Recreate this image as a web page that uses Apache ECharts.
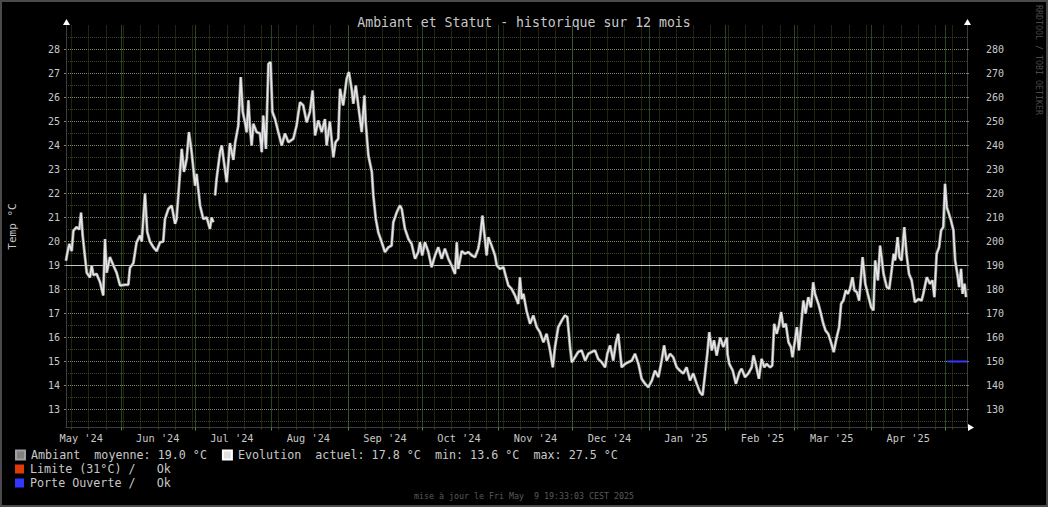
<!DOCTYPE html>
<html><head><meta charset="utf-8">
<script src="https://cdn.jsdelivr.net/npm/echarts@6/dist/echarts.min.js"></script>
<style>
html,body{margin:0;padding:0;background:#000;overflow:hidden;}
#chart{position:absolute;left:0;top:0;width:1048px;height:507px;background:#000;}
#frame{position:absolute;left:0;top:0;width:1044px;height:503px;border:2px solid #4a4a4a;pointer-events:none;}
</style></head><body>
<div id="chart"></div><div id="frame"></div>
<script>
// ---- data ----
const titleText = "Ambiant et Statut - historique sur 12 mois";
const startYMDHMS = [2024, 4, 9, 19, 33, 3];   // Fri May 9 19:33:03 (one year before update)
const spanDays = 365;
const monthLabels = ["May '24","Jun '24","Jul '24","Aug '24","Sep '24","Oct '24","Nov '24","Dec '24","Jan '25","Feb '25","Mar '25","Apr '25"];
const leftTicks = [13,14,15,16,17,18,19,20,21,22,23,24,25,26,27,28];
const halfTicks = [12.5,13.5,14.5,15.5,16.5,17.5,18.5,19.5,20.5,21.5,22.5,23.5,24.5,25.5,26.5,27.5,28.5];
const rightTicks = [130,140,150,160,170,180,190,200,210,220,230,240,250,260,270,280];
// days since start, temperature (°C)
const ambDays = [0,0.5,1.35,2.3,3,4.3,5.4,6.1,6.75,7.7,8.4,9.7,10.4,11.1,12.4,13.8,15.1,15.8,16.5,17.8,19.2,20.5,21.9,23.9,25.25,25.9,27.3,28.6,30,30.7,32,32.9,34,35.4,36.7,38.1,39.4,40.1,41.5,42.8,44.2,44.8,45.9,46.9,47.8,48.9,49.8,50.9,52.3,52.9,54.3,55.6,57,58.3,59,59.7,60,60.4,61,62.4,63.1,64.4,65.1,66.4,67.8,68.5,69.8,70.8,71.6,72.5,73.2,73.9,74.5,75.2,75.9,77.2,78.6,79.3,79.9,81,82,82.9,83.6,84.7,86,87.4,88.7,90.1,92.1,93.4,94.8,96.1,97.5,98.8,99.9,100.9,102.2,103.6,104.9,105.6,106.9,108.3,109.2,110.3,111,112.3,113.7,114.6,115.7,116.4,117.4,118.4,119.8,120.9,121.4,122.5,123.9,124.5,125.5,126.5,127.9,129.2,130.6,131.9,132.6,134,135.3,136,137.3,138.7,140,141.4,142.7,143.4,144.3,145.4,146.8,148.1,149.5,150.8,152.2,153.5,154.9,156.2,157.6,158.3,158.9,160.3,161.6,163,164.4,165.7,167,167.7,168.7,169.7,170.4,171.1,172.4,173.8,174.5,175.8,177.2,178.1,179.2,180.5,181.9,183.2,183.9,184.6,185.3,186.6,188,189.3,190.7,192,193.4,194.7,196.1,197.2,198.1,199.4,200.8,202.1,203.1,204.2,204.9,206.2,207.5,208.9,210.3,211.6,213,214.3,215.6,217,218.4,219.3,220.4,221.7,222.8,223.7,225.1,226.5,227.8,229.2,230.5,231.9,233.2,234.6,235.9,237.3,238.6,240,241.3,242.3,243.3,244.7,246,247.4,248.7,250.1,251.4,252.8,254.1,255.5,256.8,257.9,258.9,259.8,260.6,261.6,262.5,263.6,265,266.3,267.7,268,268.7,270.1,271.4,272.8,273.7,275.1,276.4,277.8,278.5,279.4,280.7,281.8,282.9,283.8,285.2,286.1,286.9,287.9,288.8,289.7,290.6,291.6,292.7,293.7,294.3,295.3,296.1,296.9,298,298.7,299.6,300.7,301.8,302.7,303.4,304.8,305.8,306.8,307.7,308.8,309.9,311,312.2,313.2,314,314.9,315.9,316.7,317.6,318.6,319.4,320.4,321.3,322.7,323.8,324.8,326.2,327.1,327.8,328.9,329.8,331.2,332.5,333.5,334.3,335.3,335.9,336.9,337.6,338.5,339.6,340.5,341.5,342.6,343.9,345.3,346.6,347.3,348.7,350,351,351.8,352.7,353.7,354.5,355.4,356.1,356.8,357.7,358.5,359.5,360.2,361.3,361.8,362.6,363.2,364,364.6];
const ambTemps = [19.2,19.5,19.9,19.6,20.45,20.6,20.5,21.2,20.25,19.35,18.7,18.5,19.0,18.6,18.65,18.3,17.75,20.1,18.7,19.35,19.0,18.7,18.17,18.2,18.2,18.9,19.1,19.97,20.25,20.0,22.0,20.4,20.0,19.76,19.6,19.97,20.0,20.94,21.36,21.5,20.74,20.94,22.47,23.86,22.9,23.45,24.56,23.72,22.33,22.82,21.5,20.94,21.0,20.53,21.0,20.8,null,21.92,22.6,23.72,24.0,23.0,22.47,24.1,23.4,24.1,24.83,26.85,25.4,24.97,24.55,25.88,24.8,24.0,24.9,24.56,24.5,23.72,25.25,23.86,27.4,27.47,25.4,25.1,24.56,24.0,24.5,24.14,24.28,24.83,25.8,25.67,24.97,25.4,26.29,24.42,25.04,24.56,25.1,24.0,25.0,23.51,24.14,24.28,26.36,25.67,26.78,27.06,26.36,25.74,26.5,25.67,24.56,26.08,24.97,23.58,22.89,21.92,20.94,20.39,19.97,19.56,19.76,19.83,20.8,21.22,21.5,21.36,20.53,20.11,19.9,19.28,19.56,19.97,19.42,19.97,19.56,18.93,19.42,19.76,19.28,19.7,19.28,19.0,18.65,19.97,18.86,19.6,19.49,19.56,19.42,19.35,19.7,20.11,21.08,20.11,19.42,20.18,19.83,19.42,19.0,18.86,18.93,18.58,18.17,18.03,17.75,17.4,18.51,17.6,17.82,17.1,16.57,16.92,16.43,16.22,15.8,16.15,15.46,14.76,15.6,16.43,16.7,16.92,16.85,15.6,14.97,15.18,15.4,15.46,15.04,15.32,15.4,15.46,15.11,14.97,14.76,15.32,15.67,15.04,15.8,16.15,14.76,14.9,14.97,15.04,15.32,14.9,14.28,14.07,13.93,14.2,14.62,14.35,15.04,15.67,15.04,15.32,15.18,14.76,14.62,14.5,14.76,14.21,14.5,14.07,13.72,13.6,14.5,15.32,16.22,15.46,15.88,15.25,16.0,15.6,16.0,15.3,14.9,14.62,14.07,14.55,14.7,14.35,14.5,14.76,15.25,14.9,14.28,15.11,14.76,14.9,14.76,14.83,16.57,16.15,16.5,17.06,16.43,16.57,15.8,15.6,15.18,15.88,16.43,15.46,16.71,17.54,16.99,17.68,17.26,18.3,17.82,17.4,17.0,16.57,16.29,16.15,15.8,15.39,16.0,16.43,17.4,17.54,17.96,17.82,18.03,18.51,17.96,17.89,17.54,19.35,18.24,17.82,17.26,17.13,19.21,18.38,19.83,18.65,18.1,18.03,18.65,19.49,19.21,20.18,19.35,19.21,20.6,19.49,18.65,18.38,17.47,17.6,17.54,17.82,18.51,18.24,18.38,17.68,19.49,19.76,20.46,20.6,22.4,21.43,21.15,20.88,20.46,19.21,18.51,18.1,18.86,17.82,18.24,17.68];
const limiteDays = [0, 365];
const limiteValues = [31, 31];
const porteDays = [357, 365];
const porteValues = [15, 15];
const stats = { moyenne: 19.0, actuel: 17.8, min: 13.6, max: 27.5 };
const footerText = "mise à jour le Fri May  9 19:33:03 CEST 2025";
const watermark = "RRDTOOL / TOBI OETIKER";

// ---- build ----
const DAY = 86400000;
const START = Date.UTC.apply(null, startYMDHMS);
const END = START + spanDays * DAY;
const ts = d => START + d * DAY;
const pairs = (ds, vs) => ds.map((d, i) => [ts(d), vs[i]]);

const weekTicks = [];
for (let t = Date.UTC(2024, 4, 12); t < END; t += 7 * DAY) weekTicks.push(t);
const monthStarts = [], monthMids = [];
for (let i = 0; i < monthLabels.length; i++) {
  monthStarts.push(Date.UTC(2024, 5 + i, 1));
  monthMids.push(Date.UTC(2024, 4 + i, 16));
}

const MONO = "'DejaVu Sans Mono', monospace";
const TXT = '#c8c8c8';
const AXIS = '#3c3c3c';
const HMAJ = '#7d866a', HMIN = '#42461e', VWEEK = '#42461e', VMON = '#4f8a48';

const chart = echarts.init(document.getElementById('chart'), null, { renderer: 'svg' });
const baseX = { type: 'value', min: START, max: END, position: 'bottom', scale: true };
const baseLeft = { type: 'value', min: 12.25, max: 29, position: 'left', scale: true };

chart.setOption({
  animation: false,
  backgroundColor: '#000',
  title: { text: titleText, left: 'center', top: 11,
    textStyle: { color: TXT, fontFamily: MONO, fontSize: 13.2, fontWeight: 'normal' } },
  grid: { left: 66, right: 81, top: 25.5, bottom: 79.5, containLabel: false, outerBoundsMode: 'none' },
  xAxis: [
    Object.assign({}, baseX, {
      axisLine: { show: true, onZero: false, lineStyle: { color: AXIS, width: 1 } },
      axisTick: { show: true, length: 2, customValues: weekTicks, lineStyle: { color: VWEEK } },
      axisLabel: { show: false },
      splitLine: { show: true, lineStyle: { color: VWEEK, width: 1, type: [1, 1] } }
    }),
    Object.assign({}, baseX, {
      axisLine: { show: false, onZero: false },
      axisTick: { show: true, length: 3, customValues: monthStarts, lineStyle: { color: VMON } },
      axisLabel: { show: true, customValues: monthMids, margin: 5, color: TXT, fontFamily: MONO, fontSize: 10.3,
        formatter: v => { const i = monthMids.indexOf(v); return i >= 0 ? monthLabels[i] : ''; } },
      splitLine: { show: true, lineStyle: { color: VMON, width: 1, type: [1, 1] } }
    })
  ],
  yAxis: [
    Object.assign({}, baseLeft, {
      name: 'Temp °C', nameLocation: 'middle', nameGap: 48, nameRotate: 90,
      nameTextStyle: { color: TXT, fontFamily: MONO, fontSize: 11 },
      axisLine: { show: true, onZero: false, lineStyle: { color: AXIS } },
      axisTick: { show: true, length: 2, customValues: leftTicks, lineStyle: { color: HMAJ } },
      axisLabel: { show: true, customValues: leftTicks, margin: 6, color: TXT, fontFamily: MONO, fontSize: 10 },
      splitLine: { show: true, lineStyle: { color: HMAJ, width: 1, type: [1, 1] } }
    }),
    Object.assign({}, baseLeft, {
      axisLine: { show: false },
      axisTick: { show: false, customValues: halfTicks },
      axisLabel: { show: false },
      splitLine: { show: true, lineStyle: { color: HMIN, width: 1, type: [1, 1] } }
    }),
    { type: 'value', min: 122.5, max: 290, position: 'right', scale: true,
      axisLine: { show: true, onZero: false, lineStyle: { color: AXIS } },
      axisTick: { show: true, length: 2, customValues: rightTicks, lineStyle: { color: HMAJ } },
      axisLabel: { show: true, customValues: rightTicks, margin: 19, color: TXT, fontFamily: MONO, fontSize: 10 },
      splitLine: { show: false } }
  ],
  legend: [
    { data: ['Ambiant', 'Evolution'], left: 15, top: 449, orient: 'horizontal', icon: 'rect',
      itemWidth: 9, itemHeight: 9, itemGap: 15, selectedMode: false, padding: 0,
      textStyle: { color: TXT, fontFamily: MONO, fontSize: 11.7, padding: [0, 0, 0, 1] },
      formatter: n => n === 'Ambiant'
        ? 'Ambiant  moyenne: ' + stats.moyenne.toFixed(1) + ' °C'
        : 'Evolution  actuel: ' + stats.actuel.toFixed(1) + ' °C  min: ' + stats.min.toFixed(1) + ' °C  max: ' + stats.max.toFixed(1) + ' °C' },
    { data: ['Limite (31°C)'], left: 15, top: 463, icon: 'rect', itemWidth: 9, itemHeight: 9, selectedMode: false, padding: 0,
      textStyle: { color: TXT, fontFamily: MONO, fontSize: 11.7, padding: [0, 0, 0, 1] },
      formatter: n => n + ' /   Ok' },
    { data: ['Porte Ouverte'], left: 15, top: 477, icon: 'rect', itemWidth: 9, itemHeight: 9, selectedMode: false, padding: 0,
      textStyle: { color: TXT, fontFamily: MONO, fontSize: 11.7, padding: [0, 0, 0, 1] },
      formatter: n => n + ' /   Ok' }
  ],
  series: [
    { name: 'Ambiant', type: 'line', xAxisIndex: 0, yAxisIndex: 0, data: pairs(ambDays, ambTemps),
      showSymbol: false, connectNulls: false, z: 3,
      itemStyle: { color: '#808080', borderColor: '#a0a0a0', borderWidth: 1 },
      lineStyle: { color: '#8c8c8c', width: 3 },
      markLine: { silent: true, symbol: 'none', label: { show: false }, z: 2,
        lineStyle: { color: '#c4cabb', width: 1, type: 'solid' }, data: [{ yAxis: stats.moyenne }] } },
    { name: 'Evolution', type: 'line', xAxisIndex: 0, yAxisIndex: 0, data: pairs(ambDays, ambTemps),
      showSymbol: false, connectNulls: false, z: 4,
      itemStyle: { color: '#e0e0e0', borderColor: '#ffffff', borderWidth: 1 },
      lineStyle: { color: '#e6e6e6', width: 1.6 } },
    { name: 'Limite (31°C)', type: 'line', xAxisIndex: 0, yAxisIndex: 0, data: pairs(limiteDays, limiteValues),
      showSymbol: false, clip: true, itemStyle: { color: '#e03a0a' }, lineStyle: { color: '#e03a0a', width: 2 } },
    { name: 'Porte Ouverte', type: 'line', xAxisIndex: 0, yAxisIndex: 0, data: pairs(porteDays, porteValues),
      showSymbol: false, z: 5, itemStyle: { color: '#3535ff' }, lineStyle: { color: '#3535ff', width: 2 } }
  ],
  graphic: [
    { type: 'text', left: 1035, top: 5, rotation: -Math.PI / 2, originX: 0, originY: 0,
      style: { text: watermark, fill: '#4a4a4a', font: "8.3px 'DejaVu Sans Mono'" }, silent: true },
    { type: 'text', x: 524, y: 496, style: { text: footerText, fill: '#5a5a5a', font: "8.3px 'DejaVu Sans Mono'",
      align: 'center', verticalAlign: 'middle' }, silent: true },
    { type: 'polygon', shape: { points: [[63, 25], [70, 25], [66.5, 19]] }, style: { fill: '#ffffff' }, silent: true },
    { type: 'polygon', shape: { points: [[964, 25], [971, 25], [967.5, 19]] }, style: { fill: '#ffffff' }, silent: true },
    { type: 'polygon', shape: { points: [[968, 424], [968, 431], [974, 427.5]] }, style: { fill: '#ffffff' }, silent: true }
  ]
});
</script>
</body></html>
